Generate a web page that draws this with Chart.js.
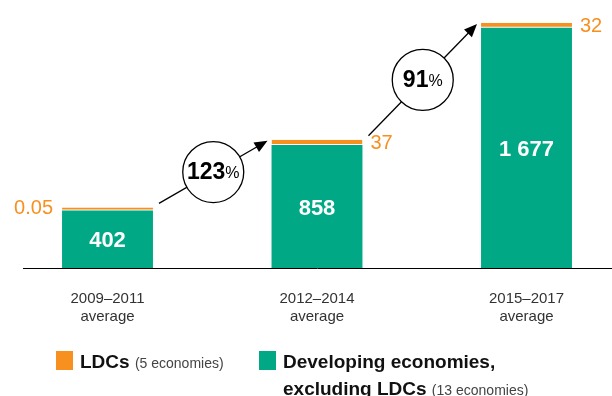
<!DOCTYPE html>
<html>
<head>
<meta charset="utf-8">
<script src="https://cdn.jsdelivr.net/npm/chart.js@4/dist/chart.umd.min.js"></script>
<style>
  body { margin: 0; background: #fff; width: 612px; height: 396px; overflow: hidden; position: relative; font-family: "Liberation Sans", Arial, sans-serif; }
  #wrap { position: absolute; left: 0; top: 0; width: 612px; height: 355px; }
  .sw { position: absolute; width: 17px; height: 19px; }
  .lg { position: absolute; font-size: 19px; line-height: 27px; font-weight: bold; color: #111; }
  .lg small { font-size: 14px; font-weight: normal; color: #444; }
</style>
</head>
<body>
<div id="wrap"><canvas id="myChart"></canvas></div>
<div class="sw" style="left:56px;top:351px;background:#f7901e"></div>
<div class="lg" style="left:80px;top:348px">LDCs <small>(5 economies)</small></div>
<div class="sw" style="left:259px;top:351px;background:#00a886"></div>
<div class="lg" style="left:283px;top:348px">Developing economies,<br>excluding LDCs <small>(13 economies)</small></div>
<script>
const categories = [['2009–2011', 'average'], ['2012–2014', 'average'], ['2015–2017', 'average']];
const otherValues = [402, 858, 1677];
const ldcValues = [0.05, 37, 32];
const otherLabels = ['402', '858', '1 677'];
const ldcLabels = ['0.05', '37', '32'];
const growthLabels = ['123', '91'];

const green = '#00a886';
const orange = '#f7901e';

// baseline, value labels, growth arrows
const extras = {
  id: 'extras',
  afterDatasetsDraw(chart) {
    const ctx = chart.ctx;
    const y0 = chart.scales.y.getPixelForValue(0);
    const gBars = chart.getDatasetMeta(0).data;
    const oBars = chart.getDatasetMeta(1).data;

    ctx.save();
    ctx.strokeStyle = '#000';
    ctx.lineWidth = 1;
    ctx.beginPath();
    ctx.moveTo(23, Math.round(y0) + 0.5);
    ctx.lineTo(612, Math.round(y0) + 0.5);
    ctx.stroke();

    ctx.textBaseline = 'middle';
    gBars.forEach((b, i) => {
      ctx.fillStyle = '#fff';
      ctx.textAlign = 'center';
      ctx.font = 'bold 22px "Liberation Sans", Arial';
      ctx.fillText(otherLabels[i], b.x, (b.y + b.base) / 2 + 2);

      const o = oBars[i];
      ctx.fillStyle = orange;
      ctx.font = '20px "Liberation Sans", Arial';
      const half = b.width / 2;
      const ym = (o.y + o.base) / 2;
      if (i === 0) {
        ctx.textAlign = 'right';
        ctx.fillText(ldcLabels[i], b.x - half - 9, ym);
      } else {
        ctx.textAlign = 'left';
        ctx.fillText(ldcLabels[i], b.x + half + 8, ym + 1);
      }
    });

    for (let i = 0; i < growthLabels.length; i++) {
      const a = oBars[i], c = oBars[i + 1];
      const x1 = a.x + a.width / 2 + 6, y1 = a.y - 4;
      const x2 = c.x - c.width / 2 - 4, y2 = c.y + 1;
      const cx = (x1 + x2) / 2, cy = (y1 + y2) / 2;
      const ang = Math.atan2(y2 - y1, x2 - x1);
      ctx.strokeStyle = '#000';
      ctx.fillStyle = '#000';
      ctx.lineWidth = 1.3;
      ctx.beginPath();
      ctx.moveTo(x1, y1);
      ctx.lineTo(x2 - 10 * Math.cos(ang), y2 - 10 * Math.sin(ang));
      ctx.stroke();
      ctx.beginPath();
      ctx.moveTo(x2, y2);
      ctx.lineTo(x2 - 13 * Math.cos(ang) + 5.5 * Math.sin(ang), y2 - 13 * Math.sin(ang) - 5.5 * Math.cos(ang));
      ctx.lineTo(x2 - 13 * Math.cos(ang) - 5.5 * Math.sin(ang), y2 - 13 * Math.sin(ang) + 5.5 * Math.cos(ang));
      ctx.closePath();
      ctx.fill();

      ctx.beginPath();
      ctx.arc(cx, cy, 30.5, 0, Math.PI * 2);
      ctx.fillStyle = '#fff';
      ctx.fill();
      ctx.stroke();

      ctx.fillStyle = '#000';
      ctx.font = 'bold 23px "Liberation Sans", Arial';
      const w1 = ctx.measureText(growthLabels[i]).width;
      ctx.font = '16px "Liberation Sans", Arial';
      const w2 = ctx.measureText('%').width;
      const sx = cx - (w1 + w2) / 2;
      ctx.textAlign = 'left';
      ctx.font = 'bold 23px "Liberation Sans", Arial';
      ctx.fillText(growthLabels[i], sx, cy + 1);
      ctx.font = '16px "Liberation Sans", Arial';
      ctx.fillText('%', sx + w1, cy + 2);
    }
    ctx.restore();
  }
};

new Chart(document.getElementById('myChart'), {
  type: 'bar',
  data: {
    labels: categories,
    datasets: [
      {
        label: 'Developing economies, excluding LDCs',
        data: otherValues,
        backgroundColor: green,
        borderWidth: 0,
        clip: false,
      },
      {
        label: 'LDCs',
        data: ldcValues,
        backgroundColor: orange,
        borderColor: '#fff',
        borderWidth: { bottom: 1, top: 0, left: 0, right: 0 },
        borderSkipped: false,
        minBarLength: 3,
        clip: false,
      },
    ],
  },
  options: {
    responsive: true,
    maintainAspectRatio: false,
    animation: false,
    events: [],
    layout: { padding: { left: 107.5, right: 85.5, top: 10, bottom: 7 } },
    datasets: { bar: { barPercentage: 1, categoryPercentage: 0.434 } },
    plugins: { legend: { display: false }, tooltip: { enabled: false } },
    scales: {
      x: {
        stacked: true,
        offset: false,
        grid: { display: false, drawTicks: false },
        border: { display: false },
        ticks: { color: '#333', padding: 22, font: { family: '"Liberation Sans", Arial', size: 15 }, maxRotation: 0 },
      },
      y: {
        stacked: true,
        display: false,
        min: 0,
        max: 1800,
      },
    },
  },
  plugins: [extras],
});
</script>
</body>
</html>
